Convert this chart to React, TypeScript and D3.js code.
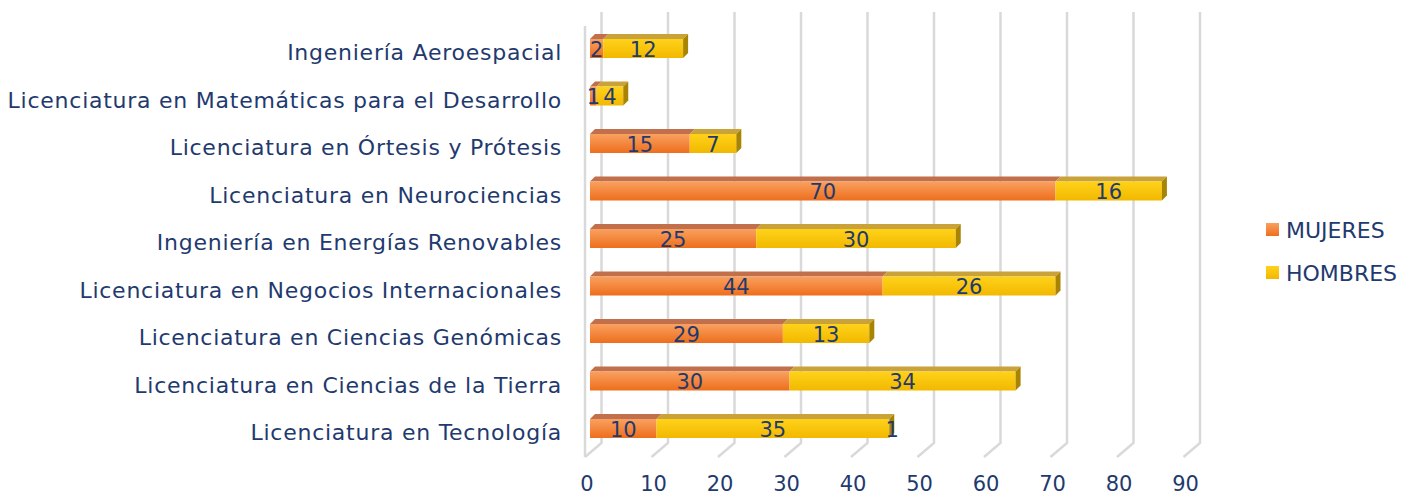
import React from 'react'
import * as d3 from 'd3'

// data, top row first
const carreras = [
    'Ingeniería Aeroespacial',
    'Licenciatura en Matemáticas para el Desarrollo',
    'Licenciatura en Órtesis y Prótesis',
    'Licenciatura en Neurociencias',
    'Ingeniería en Energías Renovables',
    'Licenciatura en Negocios Internacionales',
    'Licenciatura en Ciencias Genómicas',
    'Licenciatura en Ciencias de la Tierra',
    'Licenciatura en Tecnología',
]
const mujeres = [2, 1, 15, 70, 25, 44, 29, 30, 10]
const hombres = [12, 4, 7, 16, 30, 26, 13, 34, 35]
// stray label shown at the end of the last bar
const extraLabels = ['', '', '', '', '', '', '', '', '1']
const ticks = [0, 10, 20, 30, 40, 50, 60, 70, 80, 90]
const series = ['MUJERES', 'HOMBRES']

const W = 1411
const H = 497
const NAVY = '#1f3a6e'
const FONT = '"DejaVu Sans", sans-serif'

const colors = {
    MUJERES: { top: '#f9a160', bottom: '#ee6e1c', roof: '#c2704c', side: '#b3541a' },
    HOMBRES: { top: '#ffd21a', bottom: '#f2b800', roof: '#c9a23a', side: '#a88400' },
}

const App = () => {
    const x = d3.scaleLinear().domain([0, 90]).range([585, 1183.5])
    const y = d3.scaleBand().domain(carreras).range([39, 438]).paddingInner(0.6).paddingOuter(0)

    const rows = carreras.map((c, i) => ({ c, MUJERES: mujeres[i], HOMBRES: hombres[i] }))
    const stacked = d3.stack().keys(series)(rows as any)

    const barOff = 5 // bar front sits 5px behind the front plane
    const dx = 5 // bar depth
    const dy = 5
    const gdx = 16.5 // back plane offset
    const gdy = 14
    const gridTop = 12
    const gridBottom = 443
    const barH = y.bandwidth()

    return (
        <svg width={W} height={H} style={{ position: 'absolute', left: 0, top: 0, background: '#fff' }}>
            <defs>
                {series.map(s => (
                    <linearGradient key={s} id={`g-${s}`} x1='0' x2='0' y1='0' y2='1'>
                        <stop offset='0%' stopColor={colors[s].top} />
                        <stop offset='100%' stopColor={colors[s].bottom} />
                    </linearGradient>
                ))}
            </defs>

            {/* gridlines: back vertical + floor diagonal */}
            <g fill='none' stroke='#d9d9d9' strokeWidth={2.5}>
                {ticks.map(t => (
                    <polyline
                        key={t}
                        points={`${x(t) + gdx},${gridTop} ${x(t) + gdx},${gridBottom} ${x(t)},${gridBottom + gdy}`}
                    />
                ))}
                <line x1={x(0)} x2={x(0)} y1={gridTop + gdy} y2={gridBottom + gdy} />
            </g>

            {/* bars */}
            {carreras.map((c, i) => {
                const yTop = y(c)!
                return (
                    <g key={c}>
                        {stacked.map((layer, k) => {
                            const s = layer.key
                            const [v0, v1] = layer[i]
                            const x0 = x(v0) + barOff
                            const x1 = x(v1) + barOff
                            const last = k === stacked.length - 1
                            return (
                                <g key={s}>
                                    <polygon
                                        points={`${x0},${yTop} ${x1},${yTop} ${x1 + dx},${yTop - dy} ${x0 + dx},${yTop - dy}`}
                                        fill={colors[s].roof}
                                    />
                                    <rect x={x0} y={yTop} width={x1 - x0} height={barH} fill={`url(#g-${s})`} />
                                    {last && (
                                        <polygon
                                            points={`${x1},${yTop} ${x1 + dx},${yTop - dy} ${x1 + dx},${yTop + barH - dy} ${x1},${yTop + barH}`}
                                            fill={colors[s].side}
                                        />
                                    )}
                                </g>
                            )
                        })}
                        {stacked.map(layer => {
                            const [v0, v1] = layer[i]
                            return (
                                <text
                                    key={layer.key}
                                    x={(x(v0) + x(v1)) / 2 + barOff}
                                    y={yTop + barH / 2 + 1}
                                    textAnchor='middle'
                                    dominantBaseline='central'
                                    fill={NAVY}
                                    fontSize={21}
                                    fontFamily={FONT}
                                >
                                    {v1 - v0}
                                </text>
                            )
                        })}
                        {extraLabels[i] && (
                            <text
                                x={x(mujeres[i] + hombres[i]) + barOff + 3}
                                y={yTop + barH / 2 + 1}
                                textAnchor='middle'
                                dominantBaseline='central'
                                fill={NAVY}
                                fontSize={21}
                                fontFamily={FONT}
                            >
                                {extraLabels[i]}
                            </text>
                        )}
                        <text
                            x={562}
                            y={yTop + barH / 2 + 4}
                            textAnchor='end'
                            dominantBaseline='central'
                            fill={NAVY}
                            fontSize={22}
                            letterSpacing={0.75}
                            fontFamily={FONT}
                        >
                            {c}
                        </text>
                    </g>
                )
            })}

            {/* x axis labels */}
            {ticks.map(t => (
                <text
                    key={t}
                    x={x(t) + 2}
                    y={484}
                    textAnchor='middle'
                    dominantBaseline='central'
                    fill={NAVY}
                    fontSize={21}
                    fontFamily={FONT}
                >
                    {t}
                </text>
            ))}

            {/* legend */}
            {series.map((s, i) => (
                <g key={s} transform={`translate(1266, ${229 + i * 43})`}>
                    <rect x={0} y={-6} width={13} height={13} fill={`url(#g-${s})`} />
                    <text x={20} y={1} dominantBaseline='central' fill={NAVY} fontSize={22} fontFamily={FONT}>
                        {s}
                    </text>
                </g>
            ))}
        </svg>
    )
}

export default App
